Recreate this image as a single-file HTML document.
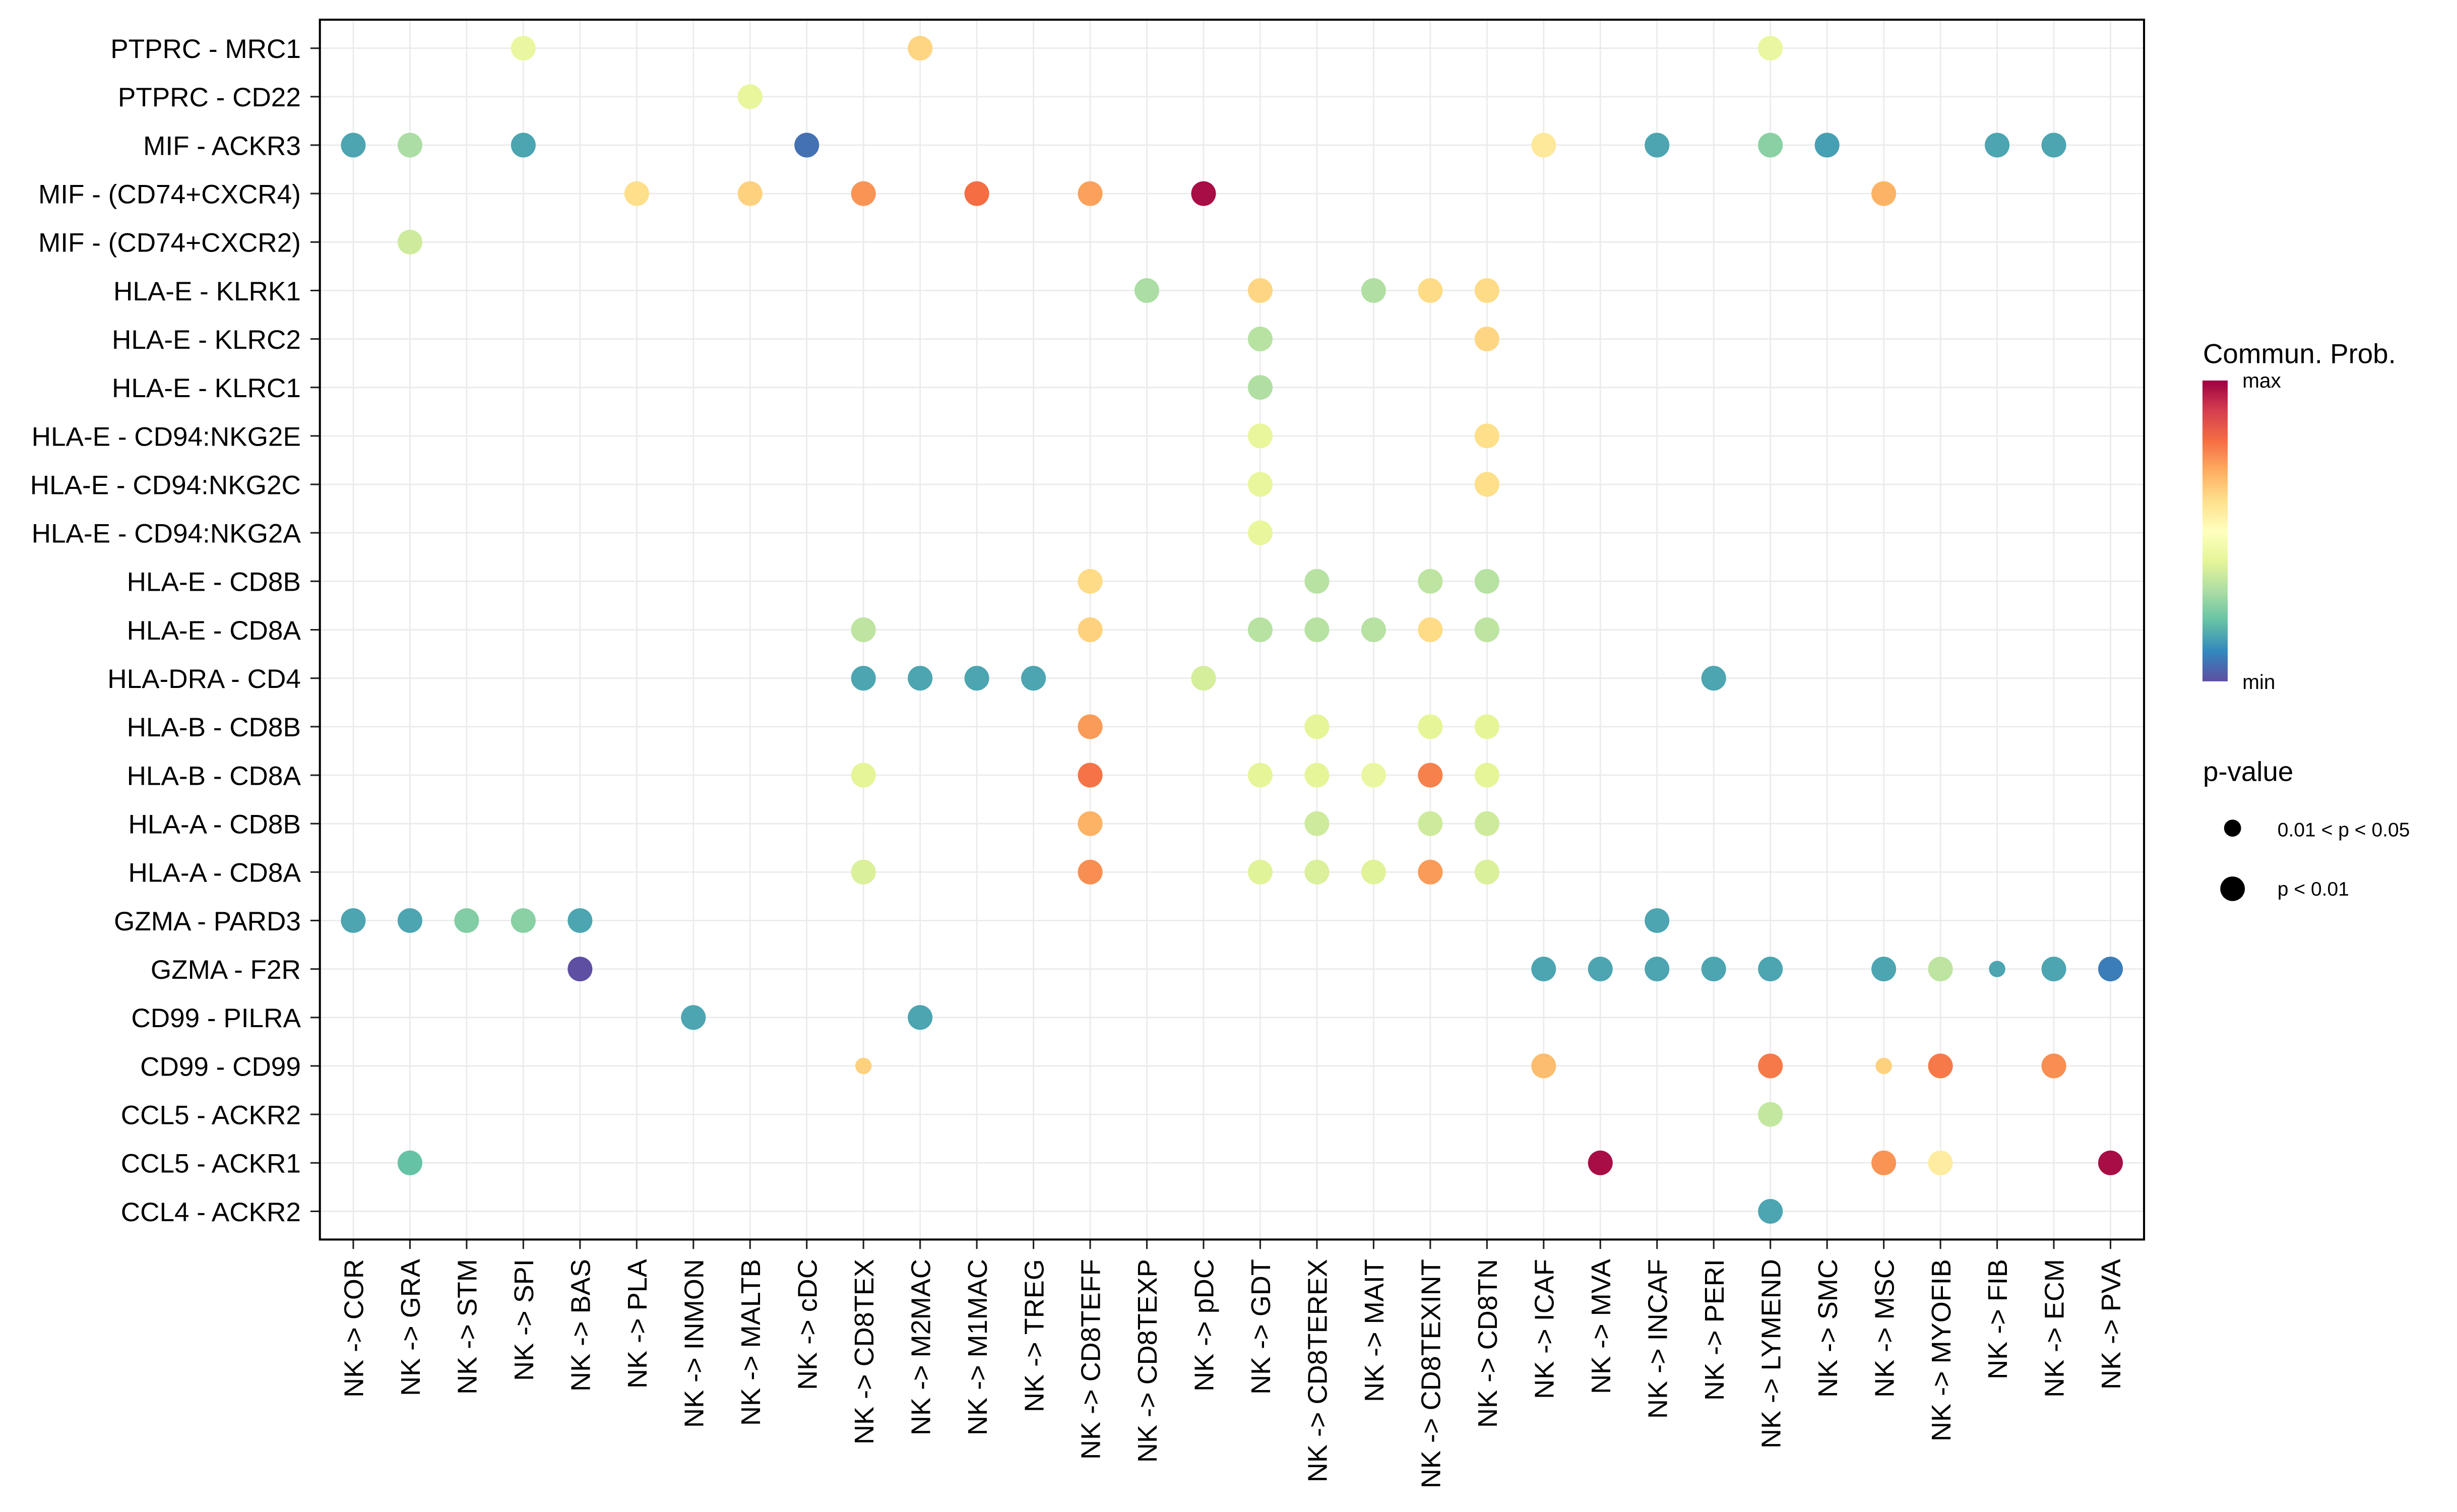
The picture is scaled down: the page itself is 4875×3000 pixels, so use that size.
<!DOCTYPE html>
<html><head><meta charset="utf-8">
<style>
html,body{margin:0;padding:0;background:#fff;}
svg{display:block;}
text{font-family:"Liberation Sans",sans-serif;fill:#000;}
</style></head>
<body>
<svg id="chart" width="4875" height="3000" viewBox="0 0 1560 960" xmlns="http://www.w3.org/2000/svg">
<defs>
<linearGradient id="cbar" x1="0" y1="1" x2="0" y2="0">
<stop offset="0" stop-color="#5E4FA2"/><stop offset="0.1" stop-color="#3288BD"/><stop offset="0.2" stop-color="#66C2A5"/><stop offset="0.3" stop-color="#ABDDA4"/><stop offset="0.4" stop-color="#E6F598"/><stop offset="0.5" stop-color="#FFFFBF"/><stop offset="0.6" stop-color="#FEE08B"/><stop offset="0.7" stop-color="#FDAE61"/><stop offset="0.8" stop-color="#F46D43"/><stop offset="0.9" stop-color="#D53E4F"/><stop offset="1" stop-color="#9E0142"/>
</linearGradient>
</defs>
<g id="grid"></g>
<g id="points"></g>
<rect x="203.1" y="12.5" width="1158.2" height="774.5" fill="none" stroke="#000" stroke-width="1.3"/>
<g id="ylabels"></g>
<g id="xlabels"></g>
<g>
<text x="1398.7" y="230.5" font-size="17.5">Commun. Prob.</text>
<rect x="1398.4" y="241.6" width="16" height="191" fill="url(#cbar)"/>
<text x="1423.7" y="246" font-size="13">max</text>
<text x="1423.7" y="437.4" font-size="13">min</text>
</g>
<g>
<text x="1398.7" y="495.8" font-size="17.5">p-value</text>
<circle cx="1417.5" cy="525.8" r="5.4" fill="#000"/>
<text x="1446" y="531" font-size="12.5">0.01 &lt; p &lt; 0.05</text>
<circle cx="1417.5" cy="564.3" r="7.8" fill="#000"/>
<text x="1446" y="568.7" font-size="12.5">p &lt; 0.01</text>
</g>
</svg>
<script>
const columns=["COR","GRA","STM","SPI","BAS","PLA","INMON","MALTB","cDC","CD8TEX","M2MAC","M1MAC","TREG","CD8TEFF","CD8TEXP","pDC","GDT","CD8TEREX","MAIT","CD8TEXINT","CD8TN","ICAF","MVA","INCAF","PERI","LYMEND","SMC","MSC","MYOFIB","FIB","ECM","PVA"];
const rows=["PTPRC - MRC1","PTPRC - CD22","MIF - ACKR3","MIF - (CD74+CXCR4)","MIF - (CD74+CXCR2)","HLA-E - KLRK1","HLA-E - KLRC2","HLA-E - KLRC1","HLA-E - CD94:NKG2E","HLA-E - CD94:NKG2C","HLA-E - CD94:NKG2A","HLA-E - CD8B","HLA-E - CD8A","HLA-DRA - CD4","HLA-B - CD8B","HLA-B - CD8A","HLA-A - CD8B","HLA-A - CD8A","GZMA - PARD3","GZMA - F2R","CD99 - PILRA","CD99 - CD99","CCL5 - ACKR2","CCL5 - ACKR1","CCL4 - ACKR2"];
// [row, col, prob(0-1), significant(1: p<0.01, 0: 0.01<p<0.05)]
const pointRows=[0,0,0,1,2,2,2,2,2,2,2,2,2,2,3,3,3,3,3,3,3,4,5,5,5,5,5,6,6,7,8,8,9,9,10,11,11,11,11,12,12,12,12,12,12,12,13,13,13,13,13,13,14,14,14,14,15,15,15,15,15,15,15,16,16,16,16,17,17,17,17,17,17,17,18,18,18,18,18,18,19,19,19,19,19,19,19,19,19,19,19,20,20,21,21,21,21,21,21,22,23,23,23,23,23,24];
const pointCols=[3,10,25,7,0,1,3,8,21,23,25,26,29,30,5,7,9,11,13,15,27,1,14,16,18,19,20,16,20,16,16,20,16,20,16,13,17,19,20,9,13,16,17,18,19,20,9,10,11,12,15,24,13,17,19,20,9,13,16,17,18,19,20,13,17,19,20,9,13,16,17,18,19,20,0,1,2,3,4,23,4,21,22,23,24,25,27,28,29,30,31,6,10,9,21,25,27,28,30,25,1,22,27,28,31,25];
const pointProb=[0.42,0.62,0.42,0.41,0.15,0.3,0.15,0.06,0.57,0.15,0.25,0.14,0.15,0.15,0.6,0.63,0.74,0.8,0.72,0.98,0.69,0.36,0.3,0.62,0.31,0.61,0.61,0.32,0.62,0.31,0.41,0.6,0.41,0.6,0.41,0.61,0.32,0.33,0.32,0.33,0.63,0.32,0.32,0.32,0.61,0.33,0.15,0.15,0.15,0.15,0.37,0.15,0.73,0.4,0.4,0.4,0.4,0.79,0.4,0.4,0.42,0.77,0.4,0.69,0.36,0.36,0.36,0.38,0.75,0.39,0.38,0.39,0.73,0.38,0.15,0.15,0.24,0.25,0.15,0.15,0.0,0.15,0.15,0.15,0.15,0.15,0.15,0.33,0.15,0.15,0.08,0.15,0.15,0.63,0.67,0.78,0.63,0.78,0.75,0.34,0.2,0.98,0.74,0.56,0.98,0.15];
const pointSig=[1,1,1,1,1,1,1,1,1,1,1,1,1,1,1,1,1,1,1,1,1,1,1,1,1,1,1,1,1,1,1,1,1,1,1,1,1,1,1,1,1,1,1,1,1,1,1,1,1,1,1,1,1,1,1,1,1,1,1,1,1,1,1,1,1,1,1,1,1,1,1,1,1,1,1,1,1,1,1,1,1,1,1,1,1,1,1,1,0,1,1,1,1,0,1,1,0,1,1,1,1,1,1,1,1,1];

const NS="http://www.w3.org/2000/svg";
const PL=203.1,PR=1361.3,PT=12.5,PB=787;
const x0=224.3, dx=(1340-224.3)/31, y0=30.6, dy=(769.1-30.6)/24;
function xScale(i){return x0+dx*i;}
function yScale(i){return y0+dy*i;}
const stops=["#5E4FA2","#3288BD","#66C2A5","#ABDDA4","#E6F598","#FFFFBF","#FEE08B","#FDAE61","#F46D43","#D53E4F","#9E0142"];
function hex(h){return [parseInt(h.slice(1,3),16),parseInt(h.slice(3,5),16),parseInt(h.slice(5,7),16)];}
function colorScale(v){v=Math.max(0,Math.min(1,v));const p=v*10;const i=Math.min(9,Math.floor(p));const t=p-i;const a=hex(stops[i]),b=hex(stops[i+1]);return "rgb("+a.map((c,k)=>Math.round(c+(b[k]-c)*t)).join(",")+")";}
function mk(tag,attrs,parent){const e=document.createElementNS(NS,tag);for(const k in attrs)e.setAttribute(k,attrs[k]);parent.appendChild(e);return e;}

const grid=document.getElementById('grid');
columns.forEach((c,i)=>{const l=mk('line',{x1:xScale(i),x2:xScale(i),y1:PT,y2:PB,stroke:'#ebebeb','stroke-width':0.9},grid);


const t=mk('line',{x1:xScale(i),x2:xScale(i),y1:PB,y2:PB+6,stroke:'#222','stroke-width':1},grid);

});
rows.forEach((r,i)=>{const l=mk('line',{x1:PL,x2:PR,y1:yScale(i),y2:yScale(i),stroke:'#ebebeb','stroke-width':0.9},grid);


const t=mk('line',{x1:PL-6,x2:PL,y1:yScale(i),y2:yScale(i),stroke:'#222','stroke-width':1},grid);

});

const yl=document.getElementById('ylabels');
rows.forEach((r,i)=>{
const t=mk('text',{x:191,y:yScale(i)+6.2,'text-anchor':'end','font-size':17},yl);
t.textContent=r;

});

const xl=document.getElementById('xlabels');
columns.forEach((c,i)=>{
const x=xScale(i)+6.3,y=799.4;
const t=mk('text',{x:x,y:y,'text-anchor':'end','font-size':17.3,transform:'rotate(-90 '+x+' '+y+')'},xl);
t.textContent="NK -> "+c;

});

const pg=document.getElementById('points');
for(let k=0;k<pointRows.length;k++){
const c=mk('circle',{cx:xScale(pointCols[k]),cy:yScale(pointRows[k]),r:pointSig[k]?7.85:5.2,fill:colorScale(pointProb[k])},pg);

}
</script>
</body></html>
